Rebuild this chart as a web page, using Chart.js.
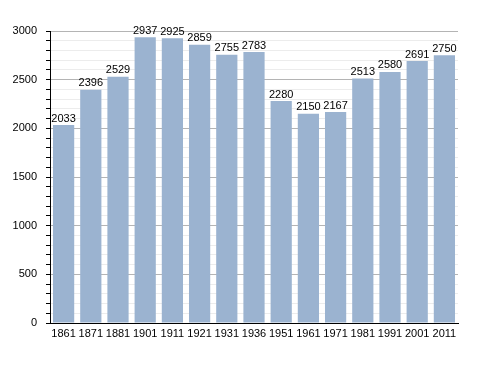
<!DOCTYPE html>
<html>
<head>
<meta charset="utf-8">
<script src="https://cdn.jsdelivr.net/npm/chart.js@4"></script>
<style>
  html, body { margin: 0; padding: 0; background: #fff; }
  #wrap { width: 488px; height: 373px; }
</style>
</head>
<body>
<div id="wrap"><canvas id="popChart" width="488" height="373"></canvas></div>
<script>
// data
const years = ['1861', '1871', '1881', '1901', '1911', '1921', '1931', '1936', '1951', '1961', '1971', '1981', '1991', '2001', '2011'];
const population = [2033, 2396, 2529, 2937, 2925, 2859, 2755, 2783, 2280, 2150, 2167, 2513, 2580, 2691, 2750];
const yMax = 3000;
const yStep = 100;
const yLabelStep = 500;

// value labels over the bars
const barLabels = {
    id: 'barLabels',
    afterDatasetsDraw(chart) {
        const ctx = chart.ctx;
        const meta = chart.getDatasetMeta(0);
        ctx.save();
        ctx.font = '11px "Liberation Sans", Arial, sans-serif';
        ctx.fillStyle = '#000';
        ctx.textAlign = 'center';
        ctx.textBaseline = 'bottom';
        meta.data.forEach(function(bar, i) {
            ctx.fillText(String(population[i]), bar.x, bar.y - 1);
        });
        ctx.restore();
    }
};

new Chart(document.getElementById('popChart'), {
    type: 'bar',
    data: {
        labels: years,
        datasets: [{
            label: 'Population',
            data: population,
            backgroundColor: '#9bb3d0',
            borderWidth: 0,
            barPercentage: 0.78,
            categoryPercentage: 1
        }]
    },
    options: {
        responsive: false,
        animation: false,
        layout: { padding: { left: 0, right: 30, top: 31, bottom: 0 } },
        plugins: {
            legend: { display: false },
            tooltip: { enabled: false }
        },
        scales: {
            x: {
                grid: { display: false, drawTicks: false },
                border: { color: '#000', width: 1 },
                ticks: {
                    color: '#000',
                    padding: 4,
                    maxRotation: 0,
                    autoSkip: false,
                    font: { family: '"Liberation Sans", Arial, sans-serif', size: 11 }
                },
                afterFit: function(scale) { scale.height = 50; }
            },
            y: {
                min: 0,
                max: yMax,
                border: { color: '#000', width: 1 },
                grid: {
                    color: function(c) {
                        return c.tick && c.tick.value % yLabelStep === 0 ? '#b4b4b4' : '#ececec';
                    },
                    tickColor: '#000',
                    tickLength: 4
                },
                ticks: {
                    stepSize: yStep,
                    autoSkip: false,
                    color: '#000',
                    padding: 9,
                    font: { family: '"Liberation Sans", Arial, sans-serif', size: 11 },
                    callback: function(v) { return v % yLabelStep === 0 ? v : ''; }
                },
                afterFit: function(scale) { scale.width = 50; }
            }
        }
    },
    plugins: [barLabels]
});
</script>
</body>
</html>
